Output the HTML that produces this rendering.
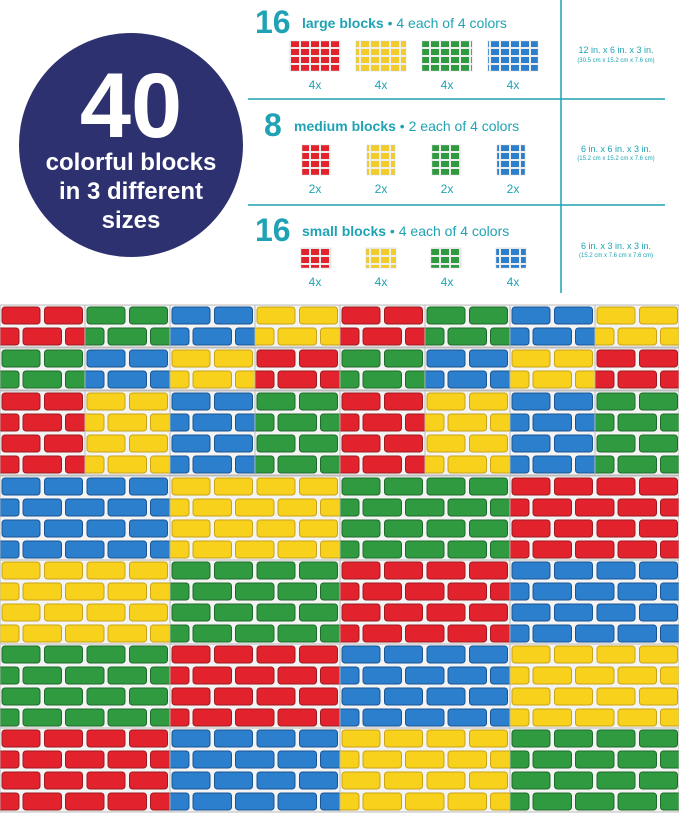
<!DOCTYPE html>
<html><head><meta charset="utf-8"><style>
body{margin:0;background:#fff;}
svg{display:block;font-family:"Liberation Sans",sans-serif;}
</style></head><body>
<svg width="679" height="817" viewBox="0 0 679 817" xmlns="http://www.w3.org/2000/svg">
<defs>
<g id="b"><rect x="2" y="2" width="38" height="17" rx="3"/><rect x="-19" y="23" width="38" height="17" rx="3"/><rect x="23" y="23" width="38" height="17" rx="3"/></g>
<pattern id="pR" width="42.5" height="42" patternUnits="userSpaceOnUse"><use href="#b" fill="#e2232e" stroke="#9e1a20"/></pattern>
<pattern id="pG" width="42.5" height="42" patternUnits="userSpaceOnUse"><use href="#b" fill="#2f9a40" stroke="#1e6a2a"/></pattern>
<pattern id="pB" width="42.5" height="42" patternUnits="userSpaceOnUse"><use href="#b" fill="#2b7fcc" stroke="#1a5494"/></pattern>
<pattern id="pY" width="42.5" height="42" patternUnits="userSpaceOnUse"><use href="#b" fill="#f7d11c" stroke="#c9a418"/></pattern>
<pattern id="sR" width="10" height="8" patternUnits="userSpaceOnUse"><rect width="10" height="8" fill="#eee"/><rect x="1" y="1" width="8" height="6" fill="#e2232e"/></pattern>
<pattern id="sY" width="10" height="8" patternUnits="userSpaceOnUse"><rect width="10" height="8" fill="#eee"/><rect x="1" y="1" width="8" height="6" fill="#f2cd2a"/></pattern>
<pattern id="sG" width="10" height="8" patternUnits="userSpaceOnUse"><rect width="10" height="8" fill="#eee"/><rect x="1" y="1" width="8" height="6" fill="#2f9a40"/></pattern>
<pattern id="sB" width="10" height="8" patternUnits="userSpaceOnUse"><rect width="10" height="8" fill="#eee"/><rect x="1" y="1" width="8" height="6" fill="#2b7fcc"/></pattern>
</defs>

<!-- circle -->
<circle cx="131" cy="145" r="112" fill="#2e3170"/>
<text x="131" y="137" text-anchor="middle" font-size="92" font-weight="bold" fill="#fff">40</text>
<text x="131" y="170" text-anchor="middle" font-size="24" font-weight="bold" fill="#fff">colorful blocks</text>
<text x="131" y="199" text-anchor="middle" font-size="24" font-weight="bold" fill="#fff">in 3 different</text>
<text x="131" y="228" text-anchor="middle" font-size="24" font-weight="bold" fill="#fff">sizes</text>

<!-- info panel -->
<g stroke="#1fa3b4" stroke-width="1.5"><line x1="248" y1="99" x2="665" y2="99"/><line x1="248" y1="205" x2="665" y2="205"/><line x1="561" y1="0" x2="561" y2="293"/></g>
<g fill="#1fa3b4">
<text x="255" y="33" font-size="32" font-weight="bold">16</text>
<text x="302" y="28" font-size="14"><tspan font-weight="bold">large blocks</tspan> • 4 each of 4 colors</text>
<text x="264" y="136" font-size="32" font-weight="bold">8</text>
<text x="294" y="131" font-size="14"><tspan font-weight="bold">medium blocks</tspan> • 2 each of 4 colors</text>
<text x="255" y="241" font-size="32" font-weight="bold">16</text>
<text x="302" y="236" font-size="14"><tspan font-weight="bold">small blocks</tspan> • 4 each of 4 colors</text>
<g font-size="12" text-anchor="middle">
<text x="315" y="89">4x</text><text x="381" y="89">4x</text><text x="447" y="89">4x</text><text x="513" y="89">4x</text>
<text x="315" y="193">2x</text><text x="381" y="193">2x</text><text x="447" y="193">2x</text><text x="513" y="193">2x</text>
<text x="315" y="286">4x</text><text x="381" y="286">4x</text><text x="447" y="286">4x</text><text x="513" y="286">4x</text>
<text x="616" y="53" font-size="9">12 in. x 6 in. x 3 in.</text>
<text x="616" y="62" font-size="6">(30.5 cm x 15.2 cm x 7.6 cm)</text>
<text x="616" y="152" font-size="9">6 in. x 6 in. x 3 in.</text>
<text x="616" y="160" font-size="6">(15.2 cm x 15.2 cm x 7.6 cm)</text>
<text x="616" y="249" font-size="9">6 in. x 3 in. x 3 in.</text>
<text x="616" y="257" font-size="6">(15.2 cm x 7.6 cm x 7.6 cm)</text>
</g></g>
<g stroke="#ccc" stroke-width="0.5">
<rect x="290" y="41" width="50" height="30" fill="url(#sR)"/><rect x="356" y="41" width="50" height="30" fill="url(#sY)"/><rect x="422" y="41" width="50" height="30" fill="url(#sG)"/><rect x="488" y="41" width="50" height="30" fill="url(#sB)"/>
<rect x="302" y="145" width="28" height="30" fill="url(#sR)"/><rect x="367" y="145" width="28" height="30" fill="url(#sY)"/><rect x="432" y="145" width="28" height="30" fill="url(#sG)"/><rect x="497" y="145" width="28" height="30" fill="url(#sB)"/>
<rect x="301" y="248" width="30" height="20" fill="url(#sR)"/><rect x="366" y="248" width="30" height="20" fill="url(#sY)"/><rect x="431" y="248" width="30" height="20" fill="url(#sG)"/><rect x="496" y="248" width="30" height="20" fill="url(#sB)"/>
</g>

<!-- wall -->
<g stroke="#bbb" stroke-width="0.8">
<!-- row 1 small -->
<g transform="translate(0,305)"><rect width="85" height="42" fill="#f4f4f4"/><rect width="85" height="42" fill="url(#pR)"/></g>
<g transform="translate(85,305)"><rect width="85" height="42" fill="#f4f4f4"/><rect width="85" height="42" fill="url(#pG)"/></g>
<g transform="translate(170,305)"><rect width="85" height="42" fill="#f4f4f4"/><rect width="85" height="42" fill="url(#pB)"/></g>
<g transform="translate(255,305)"><rect width="85" height="42" fill="#f4f4f4"/><rect width="85" height="42" fill="url(#pY)"/></g>
<g transform="translate(340,305)"><rect width="85" height="42" fill="#f4f4f4"/><rect width="85" height="42" fill="url(#pR)"/></g>
<g transform="translate(425,305)"><rect width="85" height="42" fill="#f4f4f4"/><rect width="85" height="42" fill="url(#pG)"/></g>
<g transform="translate(510,305)"><rect width="85" height="42" fill="#f4f4f4"/><rect width="85" height="42" fill="url(#pB)"/></g>
<g transform="translate(595,305)"><rect width="84" height="42" fill="#f4f4f4"/><rect width="84" height="42" fill="url(#pY)"/></g>
<!-- row 2 small -->
<g transform="translate(0,348)"><rect width="85" height="42" fill="#f4f4f4"/><rect width="85" height="42" fill="url(#pG)"/></g>
<g transform="translate(85,348)"><rect width="85" height="42" fill="#f4f4f4"/><rect width="85" height="42" fill="url(#pB)"/></g>
<g transform="translate(170,348)"><rect width="85" height="42" fill="#f4f4f4"/><rect width="85" height="42" fill="url(#pY)"/></g>
<g transform="translate(255,348)"><rect width="85" height="42" fill="#f4f4f4"/><rect width="85" height="42" fill="url(#pR)"/></g>
<g transform="translate(340,348)"><rect width="85" height="42" fill="#f4f4f4"/><rect width="85" height="42" fill="url(#pG)"/></g>
<g transform="translate(425,348)"><rect width="85" height="42" fill="#f4f4f4"/><rect width="85" height="42" fill="url(#pB)"/></g>
<g transform="translate(510,348)"><rect width="85" height="42" fill="#f4f4f4"/><rect width="85" height="42" fill="url(#pY)"/></g>
<g transform="translate(595,348)"><rect width="84" height="42" fill="#f4f4f4"/><rect width="84" height="42" fill="url(#pR)"/></g>
<!-- row 3 medium -->
<g transform="translate(0,391)"><rect width="85" height="84" fill="#f4f4f4"/><rect width="85" height="84" fill="url(#pR)"/></g>
<g transform="translate(85,391)"><rect width="85" height="84" fill="#f4f4f4"/><rect width="85" height="84" fill="url(#pY)"/></g>
<g transform="translate(170,391)"><rect width="85" height="84" fill="#f4f4f4"/><rect width="85" height="84" fill="url(#pB)"/></g>
<g transform="translate(255,391)"><rect width="85" height="84" fill="#f4f4f4"/><rect width="85" height="84" fill="url(#pG)"/></g>
<g transform="translate(340,391)"><rect width="85" height="84" fill="#f4f4f4"/><rect width="85" height="84" fill="url(#pR)"/></g>
<g transform="translate(425,391)"><rect width="85" height="84" fill="#f4f4f4"/><rect width="85" height="84" fill="url(#pY)"/></g>
<g transform="translate(510,391)"><rect width="85" height="84" fill="#f4f4f4"/><rect width="85" height="84" fill="url(#pB)"/></g>
<g transform="translate(595,391)"><rect width="84" height="84" fill="#f4f4f4"/><rect width="84" height="84" fill="url(#pG)"/></g>
<!-- large rows -->
<g transform="translate(0,476)"><rect width="170" height="84" fill="#f4f4f4"/><rect width="170" height="84" fill="url(#pB)"/></g>
<g transform="translate(170,476)"><rect width="170" height="84" fill="#f4f4f4"/><rect width="170" height="84" fill="url(#pY)"/></g>
<g transform="translate(340,476)"><rect width="170" height="84" fill="#f4f4f4"/><rect width="170" height="84" fill="url(#pG)"/></g>
<g transform="translate(510,476)"><rect width="169" height="84" fill="#f4f4f4"/><rect width="169" height="84" fill="url(#pR)"/></g>
<g transform="translate(0,560)"><rect width="170" height="84" fill="#f4f4f4"/><rect width="170" height="84" fill="url(#pY)"/></g>
<g transform="translate(170,560)"><rect width="170" height="84" fill="#f4f4f4"/><rect width="170" height="84" fill="url(#pG)"/></g>
<g transform="translate(340,560)"><rect width="170" height="84" fill="#f4f4f4"/><rect width="170" height="84" fill="url(#pR)"/></g>
<g transform="translate(510,560)"><rect width="169" height="84" fill="#f4f4f4"/><rect width="169" height="84" fill="url(#pB)"/></g>
<g transform="translate(0,644)"><rect width="170" height="84" fill="#f4f4f4"/><rect width="170" height="84" fill="url(#pG)"/></g>
<g transform="translate(170,644)"><rect width="170" height="84" fill="#f4f4f4"/><rect width="170" height="84" fill="url(#pR)"/></g>
<g transform="translate(340,644)"><rect width="170" height="84" fill="#f4f4f4"/><rect width="170" height="84" fill="url(#pB)"/></g>
<g transform="translate(510,644)"><rect width="169" height="84" fill="#f4f4f4"/><rect width="169" height="84" fill="url(#pY)"/></g>
<g transform="translate(0,728)"><rect width="170" height="84" fill="#f4f4f4"/><rect width="170" height="84" fill="url(#pR)"/></g>
<g transform="translate(170,728)"><rect width="170" height="84" fill="#f4f4f4"/><rect width="170" height="84" fill="url(#pB)"/></g>
<g transform="translate(340,728)"><rect width="170" height="84" fill="#f4f4f4"/><rect width="170" height="84" fill="url(#pY)"/></g>
<g transform="translate(510,728)"><rect width="169" height="84" fill="#f4f4f4"/><rect width="169" height="84" fill="url(#pG)"/></g>
</g>
</svg>
</body></html>
